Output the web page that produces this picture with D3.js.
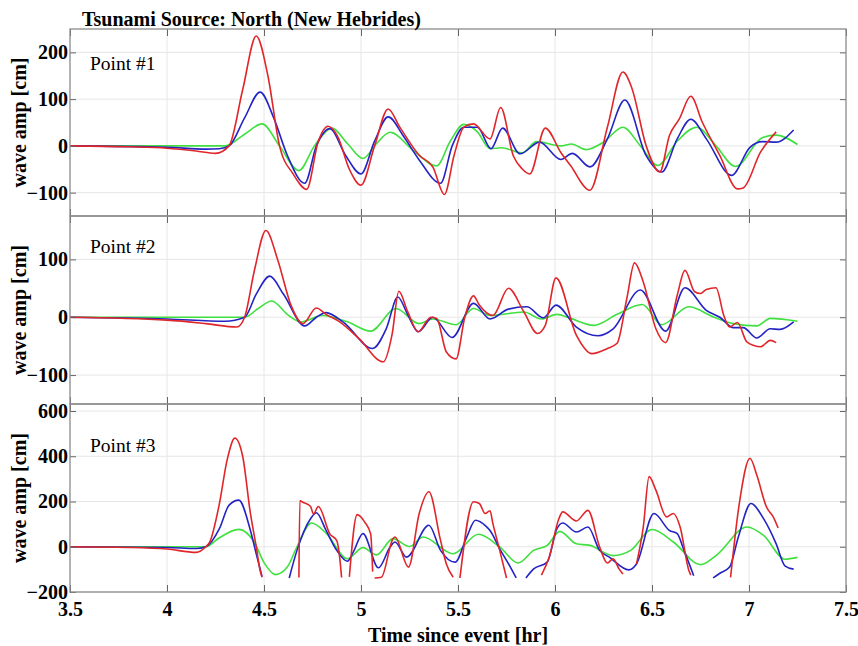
<!DOCTYPE html>
<html>
<head>
<meta charset="utf-8">
<script src="https://cdn.jsdelivr.net/npm/d3@7"></script>
<style>
  body { margin: 0; background: #fff; }
  svg { display: block; }
</style>
</head>
<body>
<script>
const p1Red = [[3.5,0],[3.8,-2],[4.0,-5],[4.15,-11],[4.25,-16],[4.32,0],[4.39,120],[4.46,235],[4.52,150],[4.58,0],[4.65,-60],[4.72,-93],[4.78,10],[4.83,42],[4.88,20],[4.94,-50],[5.0,-84],[5.07,0],[5.14,79],[5.2,40],[5.3,-20],[5.37,-45],[5.43,-104],[5.48,-20],[5.53,40],[5.58,47],[5.665,15],[5.72,82],[5.785,-21],[5.83,-49],[5.87,-60],[5.95,38],[6.03,-14],[6.08,-42],[6.18,-95],[6.27,40],[6.35,158],[6.395,125],[6.47,0],[6.54,-56],[6.59,22],[6.64,57],[6.70,106],[6.76,50],[6.85,-21],[6.94,-92],[6.97,-90],[7.06,-13],[7.14,30]];
const p1Blue = [[3.5,0],[4.0,-3],[4.2,-7],[4.27,-6],[4.32,0],[4.4,60],[4.48,115],[4.55,60],[4.62,-20],[4.71,-80],[4.77,0],[4.84,37],[4.92,-20],[5.0,-60],[5.07,10],[5.14,62],[5.22,20],[5.30,-30],[5.41,-80],[5.47,0],[5.53,40],[5.60,40],[5.67,-6],[5.73,38],[5.82,-17],[5.92,8],[6.03,-29],[6.09,-16],[6.18,-45],[6.27,15],[6.36,98],[6.47,-21],[6.55,-56],[6.63,15],[6.70,57],[6.78,15],[6.91,-63],[7.005,-3],[7.07,9],[7.14,8],[7.23,34]];
const p1Green = [[3.5,0],[4.3,0],[4.4,25],[4.49,47],[4.58,0],[4.68,-53],[4.76,0],[4.85,38],[4.93,5],[5.01,-27],[5.08,5],[5.15,29],[5.27,-10],[5.39,-43],[5.46,10],[5.53,46],[5.6,30],[5.665,-6],[5.725,-4],[5.83,-15],[5.905,9],[6.03,0],[6.085,4],[6.16,-8],[6.25,8],[6.35,40],[6.44,0],[6.53,-42],[6.63,10],[6.73,40],[6.83,0],[6.93,-44],[7.07,18],[7.14,23],[7.25,3]];

const p2Red = [[3.5,0],[4.0,-5],[4.2,-11],[4.36,-17],[4.40,0],[4.45,80],[4.51,150],[4.57,100],[4.64,20],[4.70,-11],[4.77,16],[4.82,5],[4.89,-8],[4.99,-37],[5.115,-77],[5.16,-30],[5.195,45],[5.24,10],[5.295,-25],[5.36,0],[5.39,-2],[5.44,-60],[5.49,-72],[5.535,0],[5.58,37],[5.61,21],[5.68,3],[5.76,50],[5.84,9],[5.91,-28],[5.95,-14],[6.005,68],[6.11,-31],[6.19,-63],[6.27,-54],[6.32,-45],[6.37,32],[6.41,94],[6.455,61],[6.52,-20],[6.57,-44],[6.63,38],[6.67,81],[6.72,44],[6.75,41],[6.78,48],[6.83,51],[6.87,3],[6.90,-17],[6.94,-9],[6.99,-43],[7.06,-51],[7.11,-40],[7.14,-44]];
const p2Blue = [[3.5,0],[4.0,-3],[4.3,-7],[4.40,0],[4.46,40],[4.53,71],[4.6,40],[4.71,-15],[4.77,0],[4.82,8],[4.91,-9],[5.06,-54],[5.13,-20],[5.19,35],[5.24,5],[5.295,-25],[5.37,0],[5.47,-35],[5.58,24],[5.665,-3],[5.76,14],[5.855,18],[5.94,-1],[6.005,21],[6.11,-17],[6.22,-32],[6.30,-20],[6.44,47],[6.57,-24],[6.67,51],[6.78,12],[6.85,0],[6.92,-18],[6.97,-18],[7.04,-36],[7.11,-20],[7.16,-21],[7.23,-8]];
const p2Green = [[3.5,0],[4.4,0],[4.47,15],[4.54,28],[4.62,5],[4.69,-8],[4.80,3],[4.93,-8],[5.05,-24],[5.18,15],[5.30,-11],[5.37,-3],[5.49,-13],[5.58,15],[5.665,3],[5.84,9],[5.93,-3],[6.01,5],[6.08,-2],[6.20,-14],[6.32,5],[6.45,22],[6.55,-13],[6.69,18],[6.82,0],[6.92,-11],[7.04,-15],[7.11,-2],[7.25,-7]];

const p3Red = [[3.5,0],[3.8,-3],[4.0,-10],[4.15,-25],[4.20,0],[4.22,20],[4.27,190],[4.31,384],[4.35,480],[4.39,400],[4.43,147],[4.46,0],[4.48,-105],[4.49,-135], null,
  [4.68,-136],[4.685,204],[4.70,197],[4.74,178],[4.755,145],[4.78,178],[4.84,56],[4.875,27],[4.89,-47],[4.90,-136], null,
  [4.94,-133],[4.98,142],[5.02,108],[5.05,56],[5.06,-110], null,
  [5.07,-138],[5.105,-135],[5.165,36],[5.175,43],[5.245,-90],[5.30,147],[5.35,243],[5.41,28],[5.44,-76],[5.475,-135], null,
  [5.51,-138],[5.58,199],[5.61,191],[5.64,147],[5.665,159],[5.68,102],[5.715,-16],[5.75,-138], null,
  [5.93,-125],[5.97,-46],[6.02,124],[6.04,154],[6.11,114],[6.17,161],[6.23,-1],[6.27,-72],[6.30,-53],[6.33,-98],[6.35,-120], null,
  [6.42,-76],[6.455,87],[6.485,310],[6.52,250],[6.575,132],[6.61,147],[6.645,87],[6.69,-105],[6.70,-125], null,
  [6.905,-135],[6.95,191],[7.005,391],[7.04,317],[7.09,176],[7.125,132],[7.15,83]];
const p3Blue = [[3.5,0],[4.0,-3],[4.15,-8],[4.20,0],[4.27,80],[4.32,184],[4.37,206],[4.43,72],[4.46,-31],[4.49,-132], null,
  [4.63,-138],[4.67,-16],[4.74,124],[4.77,150],[4.82,72],[4.875,-16],[4.93,-64],[4.96,-24],[5.01,58],[5.09,-93],[5.15,-1],[5.175,21],[5.235,-46],[5.35,95],[5.41,-16],[5.485,-68],[5.545,43],[5.59,117],[5.645,90],[5.665,72],[5.715,-9],[5.77,-90],[5.80,-138], null,
  [5.85,-138],[5.89,-98],[5.96,-68],[6.01,80],[6.04,105],[6.11,65],[6.17,87],[6.23,-16],[6.28,-46],[6.38,-102],[6.42,-76],[6.51,147],[6.59,72],[6.63,58],[6.665,-16],[6.715,-128], null,
  [6.815,-138],[6.85,-117],[6.90,-90],[6.945,43],[7.01,191],[7.075,124],[7.14,13],[7.185,-84],[7.23,-99]];
const p3Green = [[3.5,0],[4.2,0],[4.27,40],[4.37,77],[4.45,20],[4.50,-70],[4.56,-123],[4.62,-90],[4.67,0],[4.745,105],[4.82,60],[4.93,-53],[5.01,-4],[5.08,-36],[5.165,36],[5.25,1],[5.32,43],[5.475,-31],[5.605,55],[5.715,-1],[5.81,-72],[5.89,-16],[5.96,6],[6.025,68],[6.11,13],[6.18,6],[6.30,-39],[6.39,-16],[6.50,76],[6.61,21],[6.75,-79],[6.83,-39],[6.99,87],[7.075,50],[7.185,-55],[7.25,-47]];

const xTicks = [3.5, 4, 4.5, 5, 5.5, 6, 6.5, 7, 7.5];
const p1Ticks = [-100, 0, 100, 200];
const p2Ticks = [-100, 0, 100];
const p3Ticks = [-200, 0, 200, 400, 600];
const pointLabels = ["Point #1", "Point #2", "Point #3"];

const width = 858;
const height = 646;
const font = "'Liberation Serif', 'Times New Roman', serif";
const colors = { red: "#e0262a", blue: "#2424c4", green: "#3fe03f" };

const svg = d3.select("body").append("svg")
  .attr("width", width)
  .attr("height", height)
  .attr("viewBox", [0, 0, width, height]);

const x = d3.scaleLinear().domain([3.5, 7.5]).range([70, 846]);

const panels = [
  { top: 29, bottom: 216, domain: [-150, 250], ticks: p1Ticks, labelY: 70, series: [p1Green, p1Blue, p1Red] },
  { top: 216, bottom: 404, domain: [-150, 175], ticks: p2Ticks, labelY: 253, series: [p2Green, p2Blue, p2Red] },
  { top: 404, bottom: 592, domain: [-200, 631], ticks: p3Ticks, labelY: 452, series: [p3Green, p3Blue, p3Red] },
];
const seriesColors = [colors.green, colors.blue, colors.red];

panels.forEach(function (p, i) {
  const y = d3.scaleLinear().domain(p.domain).range([p.bottom, p.top]);
  const g = svg.append("g");

  // grid
  g.selectAll(".vgrid").data(xTicks.slice(1, -1)).enter().append("line")
    .attr("x1", d => x(d)).attr("x2", d => x(d))
    .attr("y1", p.top).attr("y2", p.bottom)
    .attr("stroke", "#e6e6e6").attr("stroke-width", 1);
  g.selectAll(".hgrid").data(p.ticks).enter().append("line")
    .attr("x1", x.range()[0]).attr("x2", x.range()[1])
    .attr("y1", d => y(d)).attr("y2", d => y(d))
    .attr("stroke", "#e6e6e6").attr("stroke-width", 1);

  // lines
  const clipId = "clip" + i;
  svg.append("clipPath").attr("id", clipId).append("rect")
    .attr("x", x.range()[0]).attr("y", p.top)
    .attr("width", x.range()[1] - x.range()[0]).attr("height", p.bottom - p.top);

  const line = d3.line()
    .defined(d => d !== null)
    .x(d => x(d[0]))
    .y(d => y(d[1]))
    .curve(d3.curveMonotoneX);

  g.append("g").attr("clip-path", "url(#" + clipId + ")")
    .selectAll("path").data(p.series).enter().append("path")
    .attr("d", line)
    .attr("fill", "none")
    .attr("stroke", (d, j) => seriesColors[j])
    .attr("stroke-width", 1.6)
    .attr("stroke-linejoin", "round");

  // axes (inward ticks)
  const left = g.append("g").attr("transform", "translate(" + x.range()[0] + ",0)")
    .call(d3.axisLeft(y).tickValues(p.ticks).tickSizeInner(-6).tickSizeOuter(0).tickPadding(2).tickFormat(d3.format("d")));
  left.selectAll("text").attr("font-family", font).attr("font-weight", "bold")
    .attr("font-size", "20px").attr("fill", "#000");
  g.append("g").attr("transform", "translate(" + x.range()[1] + ",0)")
    .call(d3.axisRight(y).tickValues(p.ticks).tickSizeInner(-6).tickSizeOuter(0).tickFormat(""));
  g.append("g").attr("transform", "translate(0," + p.top + ")")
    .call(d3.axisTop(x).tickValues(xTicks).tickSizeInner(-7).tickSizeOuter(0).tickFormat(""));
  const bottom = g.append("g").attr("transform", "translate(0," + p.bottom + ")")
    .call(d3.axisBottom(x).tickValues(xTicks).tickSizeInner(-7).tickSizeOuter(0).tickPadding(10)
      .tickFormat(i === 2 ? d3.format("") : ""));
  bottom.selectAll("text").attr("font-family", font).attr("font-weight", "bold")
    .attr("font-size", "20px").attr("fill", "#000");

  g.selectAll(".domain").remove();
  g.selectAll(".tick line").attr("stroke", "#666");

  g.append("rect")
    .attr("x", x.range()[0]).attr("y", p.top)
    .attr("width", x.range()[1] - x.range()[0]).attr("height", p.bottom - p.top)
    .attr("fill", "none").attr("stroke", "#8a8a8a").attr("stroke-width", 1.3);

  g.append("text")
    .attr("x", 90).attr("y", p.labelY)
    .attr("font-family", font).attr("font-size", "19.5px")
    .text(pointLabels[i]);

  g.append("text")
    .attr("transform", "translate(26," + (p.top + p.bottom) / 2 + ") rotate(-90)")
    .attr("text-anchor", "middle")
    .attr("font-family", font).attr("font-weight", "bold").attr("font-size", "20px")
    .text("wave amp [cm]");
});

svg.append("text")
  .attr("x", 82).attr("y", 26)
  .attr("font-family", font).attr("font-weight", "bold").attr("font-size", "20px")
  .text("Tsunami Source: North (New Hebrides)");

svg.append("text")
  .attr("x", 458).attr("y", 642)
  .attr("text-anchor", "middle")
  .attr("font-family", font).attr("font-weight", "bold").attr("font-size", "20px")
  .text("Time since event [hr]");
</script>
</body>
</html>
